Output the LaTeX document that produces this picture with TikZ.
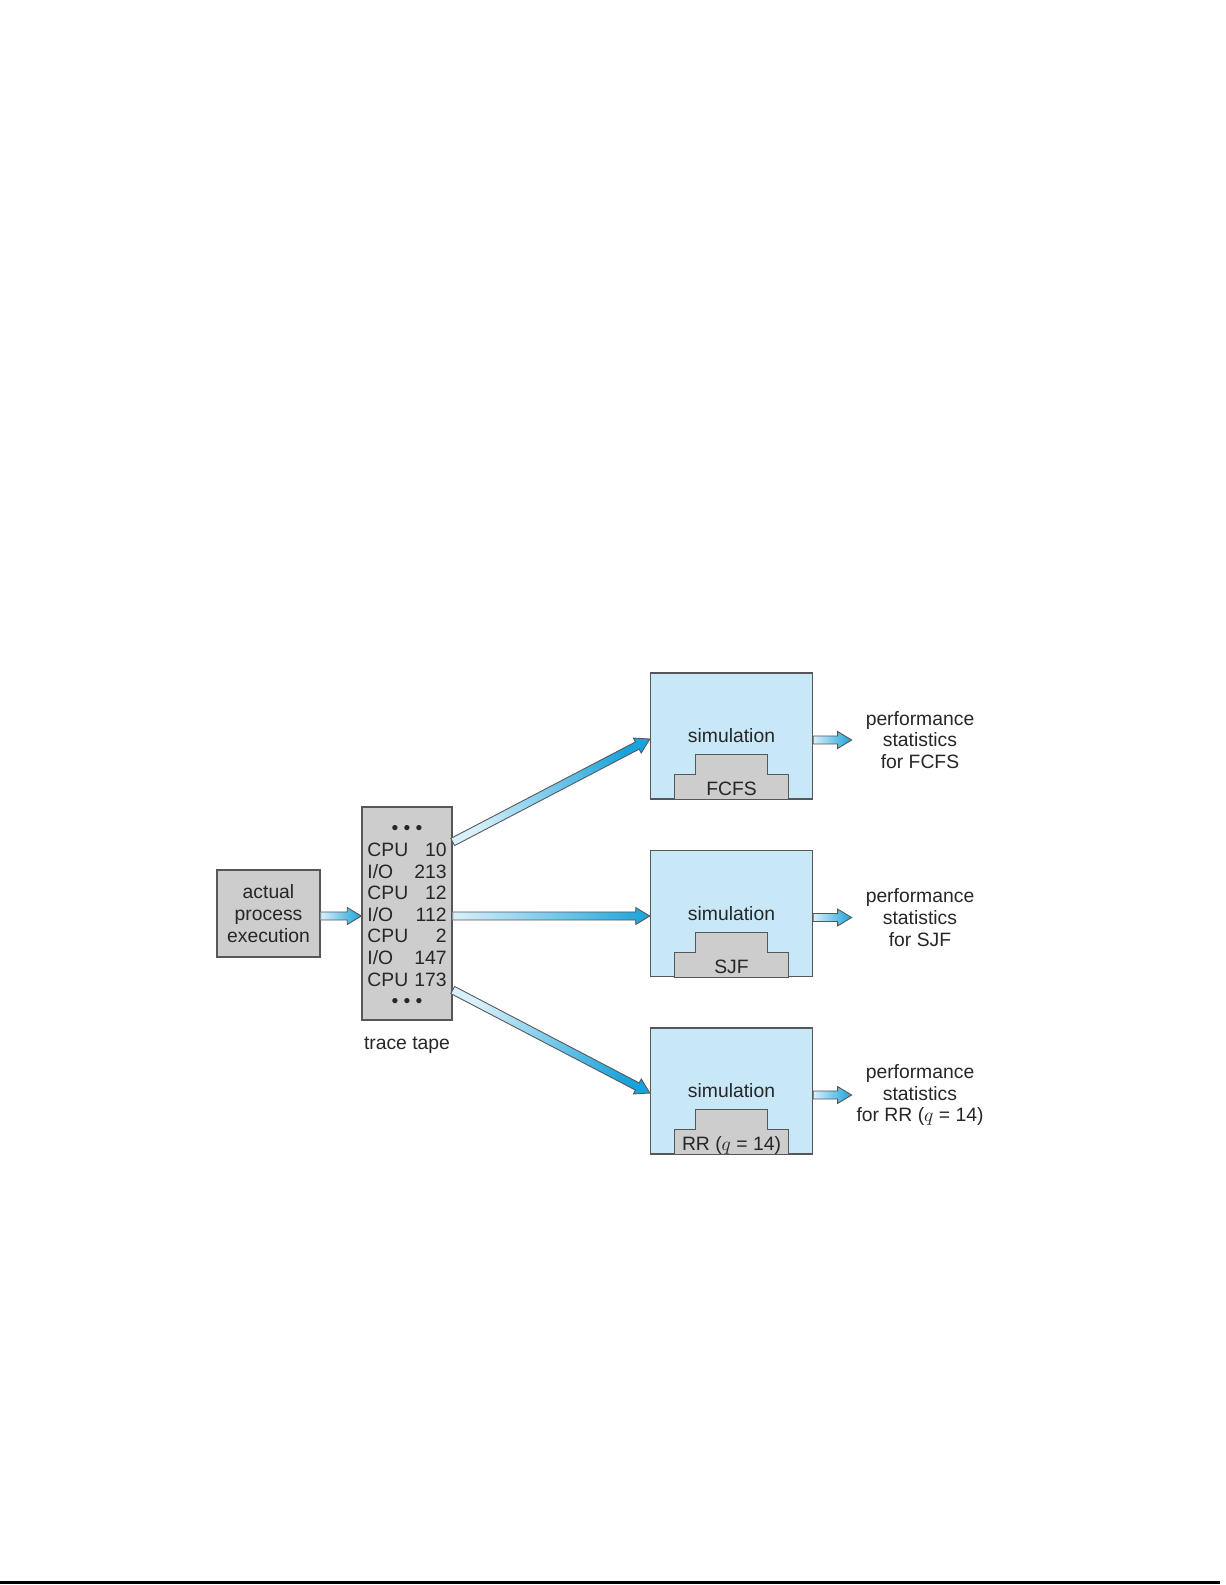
\documentclass[tikz,border=0pt]{standalone}
\usepackage{fontspec}
\setmainfont{Liberation Sans}
\usetikzlibrary{calc}

\definecolor{ink}{HTML}{262626}
\definecolor{edgegray}{HTML}{555759}
\definecolor{boxgray}{HTML}{CDCDCD}
\definecolor{simblue}{HTML}{C8E8F8}
\definecolor{flowlight}{HTML}{D8F0FB}
\definecolor{flowdark}{HTML}{1AA3DA}

\tikzset{
  greybox/.style={draw=edgegray, fill=boxgray, line width=0.8pt, inner sep=0pt},
  simbox/.style={draw=edgegray, fill=simblue, line width=0.8pt, minimum width=3.24cm, minimum height=2.52cm},
  stepbox/.style={draw=edgegray, fill=boxgray, line width=0.8pt},
  stat/.style={align=center, inner sep=1pt, minimum width=2.72cm},
  flow/.style={left color=flowlight, right color=flowdark, draw=edgegray, line width=0.5pt}
}

% fat shaded arrow from #1 to #2
\newcommand\flowarrow[2]{%
  \shade[flow] let \p1=(#1), \p2=(#2),
      \n1={atan2(\y2-\y1,\x2-\x1)}, \n2={veclen(\x2-\x1,\y2-\y1)} in
    [shading angle=\n1+90, shift={(\p1)}, rotate=\n1]
    (0pt,-2.3pt) -- ({\n2-8pt},-2.3pt) -- ({\n2-8pt},-4.8pt) -- ({\n2+0pt},0pt)
    -- ({\n2-8pt},4.8pt) -- ({\n2-8pt},2.3pt) -- (0pt,2.3pt) -- cycle;
}
\newcommand\tapedots{\textbullet\hspace{3pt}\textbullet\hspace{3pt}\textbullet}

\begin{document}
\begin{tikzpicture}[font=\fontsize{11}{12.3}\selectfont, text=ink]
  \useasboundingbox (0,0) rectangle (24.5,-31.7);

  % input side
  \node[greybox, minimum width=2.06cm, minimum height=1.74cm, align=center] (actual) at (5.37,-18.27) {actual\\process\\execution};
  \node[greybox, minimum width=1.8cm, minimum height=4.26cm] (tape) at (8.14,-18.27) {};
  \node (tapetext) at ([yshift=-0.07cm]tape.center) {%
    \begin{tabular}{@{}l@{\hspace{3.4pt}}r@{}}
      \multicolumn{2}{@{}c@{}}{\tapedots}\\
      CPU & 10\\
      I/O & 213\\
      CPU & 12\\
      I/O & 112\\
      CPU & 2\\
      I/O & 147\\
      CPU & 173\\
      \multicolumn{2}{@{}c@{}}{\tapedots}
    \end{tabular}};
  \node[anchor=base] (tapelabel) at ([yshift=-0.58cm]tape.south) {trace tape};

  % simulation boxes
  \node[simbox] (fcfs) at (14.63,-14.72) {};
  \node[simbox] (sjf) at (14.63,-18.27) {};
  \node[simbox] (rr) at (14.63,-21.82) {};
  \node (simfcfs) at (fcfs.center) {simulation};
  \node (simsjf) at (sjf.center) {simulation};
  \node (simrr) at (rr.center) {simulation};

  % steps
  \draw[stepbox] ($(fcfs.south)+(-1.136,0)$) -- ++(0,0.5) -- ++(0.42,0) -- ++(0,0.4) -- ++(1.432,0) -- ++(0,-0.4) -- ++(0.42,0) -- ++(0,-0.5) -- cycle;
  \draw[stepbox] ($(sjf.south)+(-1.136,0)$) -- ++(0,0.5) -- ++(0.42,0) -- ++(0,0.4) -- ++(1.432,0) -- ++(0,-0.4) -- ++(0.42,0) -- ++(0,-0.5) -- cycle;
  \draw[stepbox] ($(rr.south)+(-1.136,0)$) -- ++(0,0.5) -- ++(0.42,0) -- ++(0,0.4) -- ++(1.432,0) -- ++(0,-0.4) -- ++(0.42,0) -- ++(0,-0.5) -- cycle;
  \node[anchor=base] (algfcfs) at ($(fcfs.south)+(0,0.08)$) {FCFS};
  \node[anchor=base] (algsjf) at ($(sjf.south)+(0,0.08)$) {SJF};
  \node[anchor=base] (algrr) at ($(rr.south)+(0,0.08)$) {RR ($q$ = 14)};

  % results
  \node[stat] (outfcfs) at (18.4,-14.8) {performance\\statistics\\for FCFS};
  \node[stat] (outsjf) at (18.4,-18.35) {performance\\statistics\\for SJF};
  \node[stat] (outrr) at (18.4,-21.9) {performance\\statistics\\for RR ($q$ = 14)};

  % arrows
  \flowarrow{[yshift=-0.05cm]actual.east}{[yshift=-0.05cm]tape.west}
  \flowarrow{[yshift=1.43cm]tape.east}{[yshift=-0.06cm]fcfs.west}
  \flowarrow{[yshift=-0.05cm]tape.east}{[yshift=-0.05cm]sjf.west}
  \flowarrow{[yshift=-1.53cm]tape.east}{[yshift=-0.04cm]rr.west}
  \flowarrow{fcfs.east |- outfcfs.west}{outfcfs.west}
  \flowarrow{sjf.east |- outsjf.west}{outsjf.west}
  \flowarrow{rr.east |- outrr.west}{outrr.west}

  % page edge
  \draw[line width=0.05cm] (0,-31.65) -- (24.4,-31.65);
\end{tikzpicture}
\end{document}
